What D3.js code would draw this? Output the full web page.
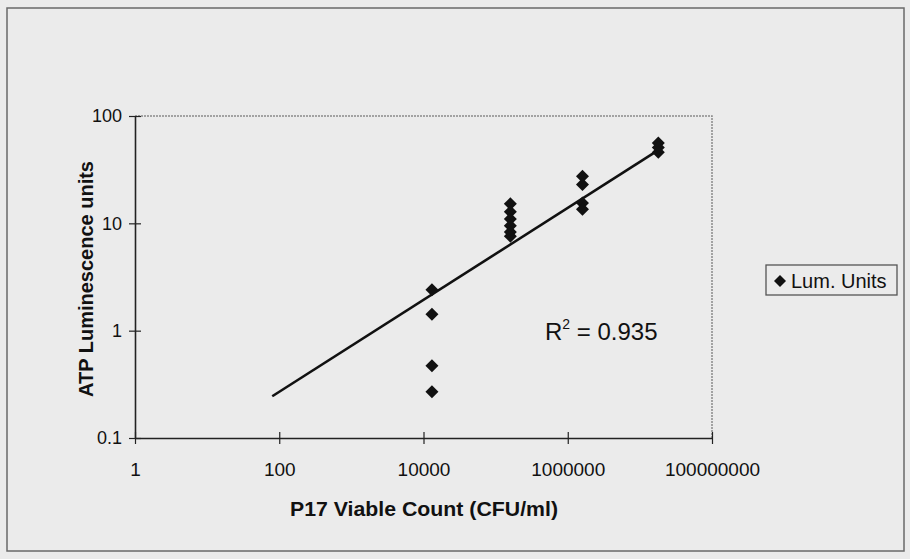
<!DOCTYPE html>
<html><head><meta charset="utf-8">
<script src="https://cdn.jsdelivr.net/npm/d3@7"></script>
<style>
html,body{margin:0;padding:0;background:#ebebeb;}
svg{display:block;}
text{font-family:"Liberation Sans",Arial,sans-serif;fill:#111;}
</style></head><body>
<svg id="c" width="910" height="559"></svg>
<script>
// ---- data ----
const countX = [13100,13100,13100,13100,
                160000,160000,160000,160000,160000,160000,
                1600000,1600000,1600000,1600000,
                18000000,18000000,18000000];
const lumY   = [2.4,1.42,0.47,0.27,
                15.2,12.8,11,9.5,8.3,7.6,
                27.5,23,15.5,13.5,
                56,51,46];
const xTicks = [1,100,10000,1000000,100000000];
const xTickLabels = ["1","100","10000","1000000","100000000"];
const yTicks = [0.1,1,10,100];
const yTickLabels = ["0.1","1","10","100"];
const trendX = [80, 18000000];
const trendY = [0.245, 48];
const seriesName = "Lum. Units";
const rSquared = "0.935";

// ---- layout ----
const svg = d3.select("#c");
const L = 135, R = 712, T = 116, B = 438;
const x = d3.scaleLog().domain([1,1e8]).range([L,R]);
const y = d3.scaleLog().domain([0.1,100]).range([B,T]);

// outer chart border
svg.append("rect").attr("x",7).attr("y",8).attr("width",897).attr("height",543)
  .attr("fill","#ebebeb").attr("stroke","#6a6a6a").attr("stroke-width",1.5);

// plot area top/right border (gray)
svg.append("path").attr("d",`M${L},${T}H${R}V${B}`)
  .attr("fill","none").attr("stroke","#8a8a8a").attr("stroke-width",1.5)
  .attr("stroke-dasharray","2,1");

// axes
const xAxis = d3.axisBottom(x).tickValues(xTicks).tickFormat((d,i)=>xTickLabels[i])
  .tickSizeInner(6).tickSizeOuter(0).tickPadding(19);
const gx = svg.append("g").attr("transform",`translate(0,${B})`).call(xAxis);
gx.selectAll(".tick line").attr("y1",-6).attr("y2",6).attr("stroke","#222").attr("stroke-width",1.2);
gx.select(".domain").attr("stroke","#222").attr("stroke-width",1.6);
gx.selectAll("text").attr("font-size",19).attr("fill","#111")
  .style("font-family",'"Liberation Sans",Arial,sans-serif');

const yAxis = d3.axisLeft(y).tickValues(yTicks).tickFormat((d,i)=>yTickLabels[i])
  .tickSizeInner(6).tickSizeOuter(0).tickPadding(7);
const gy = svg.append("g").attr("transform",`translate(${L},0)`).call(yAxis);
gy.selectAll(".tick line").attr("x1",-6).attr("x2",6).attr("stroke","#222").attr("stroke-width",1.2);
gy.select(".domain").attr("stroke","#222").attr("stroke-width",1.6);
gy.selectAll("text").attr("font-size",18).attr("fill","#111")
  .style("font-family",'"Liberation Sans",Arial,sans-serif');

// trend line
svg.append("line")
  .attr("x1",x(trendX[0])).attr("y1",y(trendY[0]))
  .attr("x2",x(trendX[1])).attr("y2",y(trendY[1]))
  .attr("stroke","#111").attr("stroke-width",2.6);

// points
const dia = "M0,-6.5L6.5,0L0,6.5L-6.5,0Z";
svg.append("g").selectAll("path").data(countX.map((v,i)=>[v,lumY[i]])).join("path")
  .attr("d",dia).attr("fill","#111")
  .attr("transform",d=>`translate(${x(d[0])},${y(d[1])})`);

// R^2 label
const rt = svg.append("text").attr("x",545).attr("y",340).attr("font-size",24);
rt.append("tspan").text("R");
rt.append("tspan").attr("font-size",14).attr("dy",-11).text("2");
rt.append("tspan").attr("dy",11).text(" = " + rSquared);

// axis titles
svg.append("text").attr("x",424).attr("y",516).attr("text-anchor","middle")
  .attr("font-size",20).attr("font-weight","bold")
  .attr("textLength",268).attr("lengthAdjust","spacingAndGlyphs")
  .text("P17 Viable Count (CFU/ml)");
svg.append("text").attr("transform","translate(93,279) rotate(-90)").attr("text-anchor","middle")
  .attr("font-size",20).attr("font-weight","bold").text("ATP Luminescence units");

// legend
svg.append("rect").attr("x",766).attr("y",265).attr("width",131).attr("height",30)
  .attr("fill","#ebebeb").attr("stroke","#555").attr("stroke-width",1.3);
svg.append("path").attr("d","M0,-6L6,0L0,6L-6,0Z").attr("fill","#111").attr("transform","translate(780,281)");
svg.append("text").attr("x",791).attr("y",288).attr("font-size",20).text(seriesName);
</script>
</body></html>
